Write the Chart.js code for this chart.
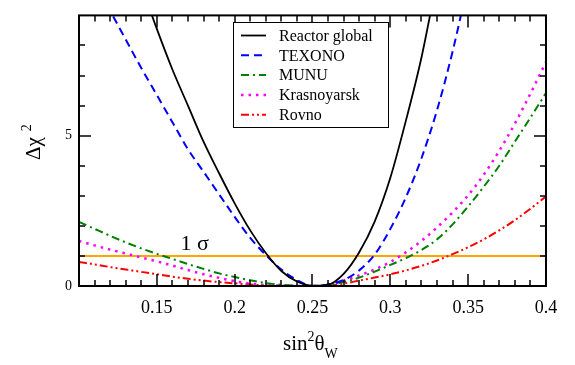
<!DOCTYPE html>
<html>
<head>
<meta charset="utf-8">
<script src="https://cdn.jsdelivr.net/npm/chart.js@4/dist/chart.umd.min.js"></script>
<style>
  body { margin: 0; background: #fff; }
</style>
</head>
<body>
<canvas id="chi2Chart" width="575" height="365"></canvas>
<script>
// sin^2 theta_W grid and delta chi^2 curves
const sin2 = [0.10, 0.11, 0.12, 0.13, 0.14, 0.15, 0.16, 0.17, 0.18, 0.19, 0.20,
              0.21, 0.22, 0.23, 0.24, 0.25, 0.26, 0.27, 0.28, 0.29, 0.30,
              0.31, 0.32, 0.33, 0.34, 0.35, 0.36, 0.37, 0.38, 0.39, 0.40];

const reactorGlobal = [null, null, null, null, 10.0, 8.55, 7.2, 6.0, 4.8, 3.75, 2.75,
                       1.85, 1.1, 0.5, 0.15, 0.01, 0.04, 0.4, 1.12, 2.15, 3.6,
                       5.5, 7.6, 10.2, null, null, null, null, null, null, null];
const texono = [null, 10.1, 9.15, 8.2, 7.25, 6.35, 5.45, 4.55, 3.8, 3.05, 2.3,
                1.6, 1.03, 0.55, 0.2, 0.0, 0.05, 0.2, 0.52, 1.05, 1.9,
                2.95, 4.25, 5.85, 7.8, 10.1, null, null, null, null, null];
const munu = [2.13, 1.9, 1.67, 1.45, 1.25, 1.07, 0.9, 0.73, 0.57, 0.42, 0.3,
              0.19, 0.1, 0.04, 0.01, 0.0, 0.04, 0.13, 0.28, 0.48, 0.7,
              0.93, 1.2, 1.55, 2.05, 2.65, 3.3, 4.0, 4.8, 5.6, 6.42];
const krasnoyarsk = [1.5, 1.35, 1.21, 1.08, 0.95, 0.82, 0.68, 0.53, 0.39, 0.27, 0.16,
                     0.08, 0.03, 0.01, 0.0, 0.0, 0.04, 0.18, 0.35, 0.55, 0.8,
                     1.12, 1.5, 1.95, 2.45, 3.02, 3.7, 4.5, 5.4, 6.4, 7.45];
const rovno = [0.8, 0.72, 0.63, 0.55, 0.47, 0.39, 0.31, 0.24, 0.18, 0.13, 0.09,
               0.05, 0.02, 0.01, 0.0, 0.0, 0.01, 0.08, 0.18, 0.28, 0.39,
               0.52, 0.67, 0.85, 1.06, 1.29, 1.55, 1.85, 2.19, 2.57, 2.98];

const seriesNames = ['Reactor global', 'TEXONO', 'MUNU', 'Krasnoyarsk', 'Rovno'];
const sigmaLevel = 1;
const sigmaLabel = '1 σ';
const xTickLabels = [0.15, 0.2, 0.25, 0.3, 0.35, 0.4];
const yTickLabels = [0, 5];

const SERIF = "'Liberation Serif', 'DejaVu Serif', serif";

function toPoints(ys) {
    return sin2.map((x, i) => ({ x: x, y: ys[i] }));
}

const styles = [
    { color: '#000000', dash: [], width: 1.8 },
    { color: '#0000ff', dash: [8, 5], width: 2 },
    { color: '#008000', dash: [8, 4, 2, 4], width: 2 },
    { color: '#ff00ff', dash: [2.5, 5], width: 2.5 },
    { color: '#ff0000', dash: [8, 3, 2, 3, 2, 3], width: 2 }
];

const curves = [reactorGlobal, texono, munu, krasnoyarsk, rovno];

const datasets = curves.map((ys, i) => ({
    label: seriesNames[i],
    data: toPoints(ys),
    borderColor: styles[i].color,
    borderDash: styles[i].dash,
    borderWidth: styles[i].width,
    pointRadius: 0,
    fill: false,
    cubicInterpolationMode: 'monotone',
    spanGaps: false,
    clip: 0
}));

// 1 sigma reference line
datasets.push({
    label: 'sigma',
    data: [{ x: sin2[0], y: sigmaLevel }, { x: sin2[sin2.length - 1], y: sigmaLevel }],
    borderColor: '#ffa500',
    borderWidth: 2,
    pointRadius: 0,
    fill: false,
    clip: 0
});

// Inward ticks on all four sides plus the frame
const frameTicks = {
    id: 'frameTicks',
    afterDatasetsDraw(chart) {
        const { ctx, chartArea: a, scales: { x, y } } = chart;
        ctx.save();
        ctx.strokeStyle = '#000';
        ctx.lineWidth = 1.5;
        ctx.setLineDash([]);
        function seg(x1, y1, x2, y2) {
            ctx.beginPath();
            ctx.moveTo(x1, y1);
            ctx.lineTo(x2, y2);
            ctx.stroke();
        }
        for (let i = 1; i < 30; i++) {
            const px = Math.round(x.getPixelForValue(0.1 + i * 0.01));
            const len = i % 5 === 0 ? 12 : 6;
            seg(px, a.bottom, px, a.bottom - len);
            seg(px, a.top, px, a.top + len);
        }
        for (let j = 1; j < 9; j++) {
            const py = Math.round(y.getPixelForValue(j));
            const len = j % 5 === 0 ? 12 : 6;
            seg(a.left, py, a.left + len, py);
            seg(a.right, py, a.right - len, py);
        }
        ctx.lineWidth = 2;
        ctx.strokeRect(a.left, a.top, a.right - a.left, a.bottom - a.top);

        // 1 sigma label
        ctx.fillStyle = '#000';
        ctx.font = '22px ' + SERIF;
        ctx.textBaseline = 'alphabetic';
        ctx.textAlign = 'left';
        ctx.fillText(sigmaLabel, x.getPixelForValue(0.1652), y.getPixelForValue(sigmaLevel) - 6);
        ctx.restore();
    }
};

// Legend box inside the plot
const boxLegend = {
    id: 'boxLegend',
    afterDraw(chart) {
        const ctx = chart.ctx;
        const bx = 233, by = 22, bw = 155, bh = 105;
        ctx.save();
        ctx.fillStyle = '#fff';
        ctx.fillRect(bx, by, bw, bh);
        ctx.strokeStyle = '#000';
        ctx.lineWidth = 1;
        ctx.setLineDash([]);
        ctx.strokeRect(bx + 0.5, by + 0.5, bw, bh);
        ctx.font = '16px ' + SERIF;
        ctx.textBaseline = 'middle';
        ctx.fillStyle = '#000';
        seriesNames.forEach((name, i) => {
            const ds = chart.data.datasets[i];
            const ry = 35.5 + i * 19.8;
            ctx.strokeStyle = ds.borderColor;
            ctx.lineWidth = ds.borderWidth;
            ctx.setLineDash(ds.borderDash);
            ctx.beginPath();
            ctx.moveTo(241, ry);
            ctx.lineTo(266, ry);
            ctx.stroke();
            ctx.setLineDash([]);
            ctx.fillText(name, 279, ry + 1);
        });
        ctx.restore();
    }
};

// Axis titles with super- and subscripts
const axisTitles = {
    id: 'axisTitles',
    afterDraw(chart) {
        const ctx = chart.ctx;
        ctx.save();
        ctx.fillStyle = '#000';
        ctx.textBaseline = 'alphabetic';
        ctx.textAlign = 'left';

        // x title: sin^2 theta_W
        let cx = 283;
        const base = 350;
        ctx.font = '21px ' + SERIF;
        ctx.fillText('sin', cx, base);
        cx += ctx.measureText('sin').width;
        ctx.font = '14px ' + SERIF;
        ctx.fillText('2', cx, base - 9);
        cx += ctx.measureText('2').width;
        ctx.font = '21px ' + SERIF;
        ctx.fillText('θ', cx, base);
        cx += ctx.measureText('θ').width;
        ctx.font = '14px ' + SERIF;
        ctx.fillText('W', cx, base + 8);

        // y title: delta chi^2, rotated
        ctx.translate(33, 140);
        ctx.rotate(-Math.PI / 2);
        ctx.font = '21px ' + SERIF;
        ctx.fillText('Δχ', -20, 7);
        const w = ctx.measureText('Δχ').width;
        ctx.font = '14px ' + SERIF;
        ctx.fillText('2', -20 + w + 6, -2);
        ctx.restore();
    }
};

const ctx = document.getElementById('chi2Chart').getContext('2d');
const chi2Chart = new Chart(ctx, {
    type: 'line',
    data: { datasets: datasets },
    options: {
        responsive: false,
        animation: false,
        devicePixelRatio: 1,
        layout: { padding: { top: 4, right: 29, left: 0, bottom: 0 } },
        plugins: {
            legend: { display: false },
            tooltip: { enabled: false }
        },
        scales: {
            x: {
                type: 'linear',
                min: 0.1,
                max: 0.4,
                grid: { display: false, drawTicks: false },
                border: { display: false },
                afterBuildTicks: scale => { scale.ticks = xTickLabels.map(v => ({ value: v })); },
                afterFit: scale => { scale.height = 79; },
                ticks: {
                    color: '#000',
                    font: { family: SERIF, size: 18 },
                    padding: 11,
                    maxRotation: 0,
                    callback: v => String(+v.toFixed(2))
                }
            },
            y: {
                type: 'linear',
                min: 0,
                max: 9,
                grid: { display: false, drawTicks: false },
                border: { display: false },
                afterBuildTicks: scale => { scale.ticks = yTickLabels.map(v => ({ value: v })); },
                afterFit: scale => { scale.width = 79; },
                ticks: {
                    color: '#000',
                    font: { family: SERIF, size: 14 },
                    padding: 7
                }
            }
        }
    },
    plugins: [frameTicks, boxLegend, axisTitles]
});
</script>
</body>
</html>
